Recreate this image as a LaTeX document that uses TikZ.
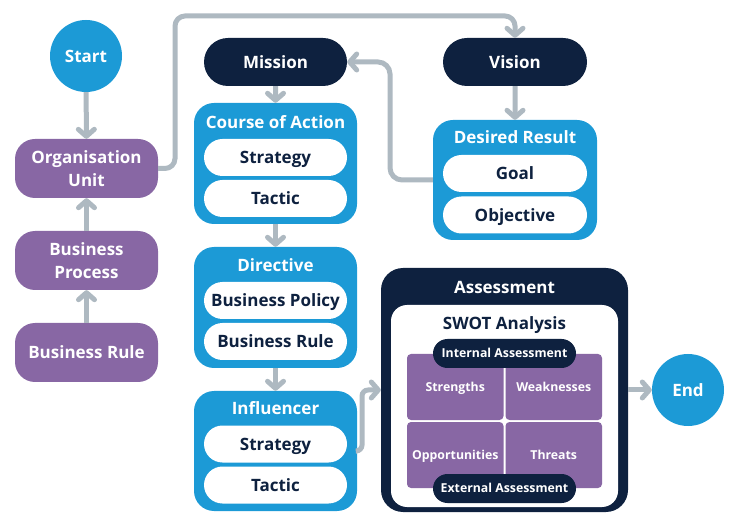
\documentclass[tikz,border=0pt]{standalone}
\usepackage{fontspec}
\setmainfont{Open Sans}
\usetikzlibrary{arrows.meta,shapes.misc}
\definecolor{bblue}{HTML}{1C9AD6}
\definecolor{bpurple}{HTML}{8867A4}
\definecolor{bnavy}{HTML}{0E213F}
\definecolor{bgray}{HTML}{AEB9C1}
\tikzset{
  every node/.style={font=\bfseries\fontsize{17}{20}\selectfont, inner sep=0pt, align=center},
  capmid/.style={text height=12.1pt, text depth=0pt},
  smallcapmid/.style={text height=8.8pt, text depth=0pt},
  roundnode/.style={circle, fill=bblue, text=white, minimum size=72pt, capmid},
  purplebox/.style={rectangle, rounded corners=20pt, fill=bpurple, text=white, minimum width=143pt, minimum height=59pt},
  navypill/.style={rounded rectangle, fill=bnavy, text=white, minimum width=143pt, minimum height=48pt, capmid},
  container/.style={rectangle, rounded corners=20pt, fill=bblue, minimum width=163pt, minimum height=121pt},
  ctitle/.style={text=white, capmid},
  whitepill/.style={rounded rectangle, fill=white, text=bnavy, minimum width=143pt, minimum height=37pt, capmid},
  swotcell/.style={rectangle, rounded corners=4pt, fill=bpurple, text=white, minimum width=96.5pt, minimum height=66pt, font=\bfseries\fontsize{12.3}{14}\selectfont, smallcapmid},
  smallpill/.style={rounded rectangle, fill=bnavy, text=white, minimum width=143pt, minimum height=29pt, font=\bfseries\fontsize{12.3}{14}\selectfont, smallcapmid},
  conn/.style={draw=bgray, line width=5pt, -{Straight Barb[length=7pt,width=16pt,line cap=round,line join=round]}},
}
\begin{document}
\begin{tikzpicture}[x=1pt,y=-1pt]
\useasboundingbox (0,0) rectangle (734,529);
% left column
\node[roundnode] (start) at (86,56) {Start};
\node[purplebox] (org) at (86.5,168.5) {Organisation\\[3pt]Unit};
\node[purplebox] (bp) at (86.5,260.5) {Business\\[3pt]Process};
\node[purplebox, capmid] (br) at (86.5,352.5) {Business Rule};
% mission / vision
\node[navypill] (mission) at (275.5,62) {Mission};
\node[navypill, minimum width=144pt] (vision) at (515,62) {Vision};
% course of action
\node[container] (coa) at (275.5,163.5) {};
\node[ctitle] (coat) at (275.5,122) {Course of Action};
\node[whitepill] (coas) at (275.5,157.5) {Strategy};
\node[whitepill] (coatac) at (275.5,198.5) {Tactic};
% directive
\node[container] (dir) at (275.5,307.5) {};
\node[ctitle] (dirt) at (275.5,265) {Directive};
\node[whitepill] (dirbp) at (275.5,300.5) {Business Policy};
\node[whitepill] (dirbr) at (275.5,341.5) {Business Rule};
% influencer
\node[container, minimum height=120pt] (inf) at (275.5,451) {};
\node[ctitle] (inft) at (275.5,408) {Influencer};
\node[whitepill] (infs) at (275.5,444) {Strategy};
\node[whitepill] (inftac) at (275.5,485) {Tactic};
% desired result
\node[container, minimum width=164pt, minimum height=120pt] (dr) at (515,180) {};
\node[ctitle] (drt) at (515,137) {Desired Result};
\node[whitepill, minimum width=144pt] (goal) at (515,173.5) {Goal};
\node[whitepill, minimum width=144pt] (obj) at (515,215) {Objective};
% assessment
\node[rectangle, rounded corners=22pt, fill=bnavy, minimum width=247pt, minimum height=244pt] (ass) at (504.5,390) {};
\node[ctitle] (asst) at (504.5,287) {Assessment};
\node[rectangle, rounded corners=16pt, fill=white, minimum width=227pt, minimum height=202pt] (swot) at (504.5,406) {};
\node[text=bnavy, capmid] (swott) at (504.5,323) {SWOT Analysis};
\node[swotcell] (str) at (455.25,387) {Strengths};
\node[swotcell] (wea) at (553.75,387) {Weaknesses};
\node[swotcell] (opp) at (455.25,455) {Opportunities};
\node[swotcell] (thr) at (553.75,455) {Threats};
\node[smallpill] (intl) at (504.5,353.5) {Internal Assessment};
\node[smallpill] (extl) at (504.5,488.5) {External Assessment};
\node[roundnode] (end) at (688,390) {End};
% helper coordinates
\coordinate (c1) at (175,16);
\coordinate (c2) at (390,62);
\coordinate (c3) at (362,390);
% connectors
\draw[conn] (start) -- (org);
\draw[conn] (br) -- (bp);
\draw[conn] (bp) -- (org);
\draw[conn, rounded corners=10pt] (org.east) -| (c1) -| (vision.north);
\draw[conn] (vision) -- (dr);
\draw[conn, rounded corners=12pt] (dr.west) -| (c2) -- (mission.east);
\draw[conn] (mission) -- (coa);
\draw[conn] (coa) -- (dir);
\draw[conn] (dir) -- (inf);
\draw[conn, rounded corners=6pt] (inf.east) -| (c3) -- (ass.west);
\draw[conn] (ass) -- (end);
\end{tikzpicture}
\end{document}
